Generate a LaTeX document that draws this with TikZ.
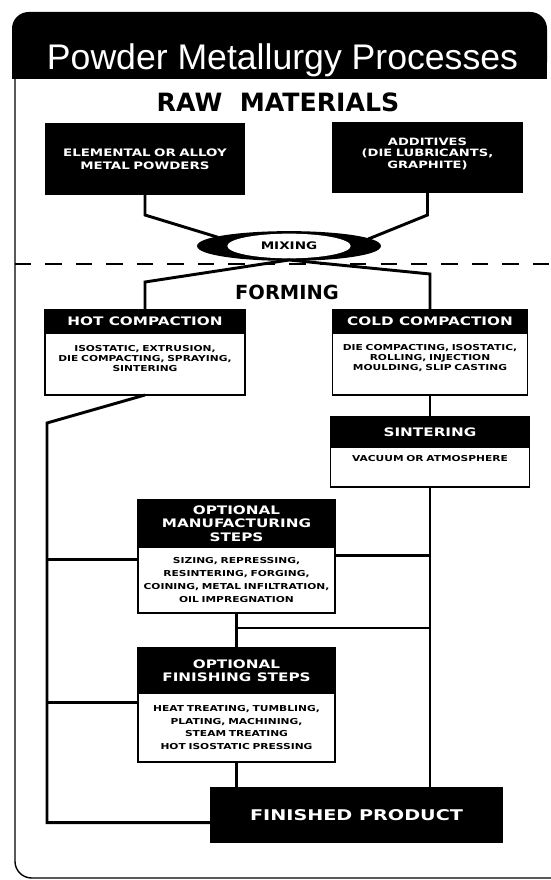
\documentclass[tikz,border=0pt]{standalone}
\usepackage{fontspec}
\setmainfont{DejaVu Sans}
\newfontfamily\widefont[FakeStretch=1.3]{DejaVu Sans}
\newfontfamily\titlefont{Liberation Sans}
\usetikzlibrary{positioning,shapes.geometric}

\begin{document}
\begin{tikzpicture}[x=0.03cm,y=-0.03cm,line width=2.5pt,node distance=0.66cm]
\tikzstyle{every node}=[inner sep=2pt,outer sep=0pt]
\tikzstyle{src}=[fill=black,text=white,align=center,text width=5.6cm,
  font=\widefont\bfseries\fontsize{8.8}{11}\selectfont]
\tikzstyle{head}=[draw,line width=1.5pt,fill=black,text=white,minimum width=5.91cm,
  align=center,font=\widefont\bfseries\fontsize{10}{11.5}\selectfont]
\tikzstyle{body}=[draw,line width=1.5pt,fill=white,minimum width=5.91cm,text width=5.85cm,
  inner xsep=0pt,align=center,font=\widefont\bfseries\fontsize{7}{11}\selectfont]
\tikzstyle{big}=[font=\bfseries\fontsize{21.5}{24}\selectfont]

\useasboundingbox[fill=white] (0,0) rectangle (550,880);

% frame and title bar
\draw[line width=1.2pt,rounded corners=0.5cm] (15,79) -- (15,878) -- (551,878);
\fill[rounded corners=0.5cm] (12,79) rectangle (547,12);
\fill (12,45) rectangle (547,79);
\node[text=white,font=\titlefont\fontsize{30.4}{33}\selectfont] (title) at (282.5,60.5) {Powder Metallurgy Processes};

\draw[line width=1.5pt,dash pattern=on 14pt off 12pt] (15,264) -- (550,264);

% raw materials
\node[big] (raw) at (278,102) {RAW\ \ MATERIALS};
\node[src,minimum width=6cm,minimum height=2.16cm] (elem) at (145,159)
  {ELEMENTAL OR ALLOY\\METAL POWDERS};
\node[src,minimum width=5.67cm,minimum height=2.13cm,font=\widefont\bfseries\fontsize{8.6}{9.8}\selectfont] (addv) at (427.5,157.5)
  {ADDITIVES\\(DIE LUBRICANTS,\\GRAPHITE)\vspace{0.24cm}};
\fill (289,246) ellipse [x radius=2.73cm,y radius=0.42cm];
\fill[white] (289,246) ellipse [x radius=1.85cm,y radius=0.37cm];
\node[draw,ellipse,line width=1.5pt,minimum width=5.46cm,minimum height=0.84cm,
  font=\widefont\bfseries\fontsize{8.9}{10}\selectfont] (mix) at (289,246) {MIXING};

% forming
\node[big,font=\bfseries\fontsize{16.6}{19}\selectfont] (form) at (287,292) {FORMING};
\node[head,minimum width=6cm,minimum height=0.69cm] (hothead) at (145,321.5) {HOT COMPACTION};
\node[body,minimum width=6cm,minimum height=1.86cm,font=\widefont\bfseries\fontsize{7}{8.5}\selectfont,below=0pt of hothead] (hotbody)
  {ISOSTATIC, EXTRUSION,\\DIE COMPACTING, SPRAYING,\\SINTERING\vspace{0.35cm}};
\node[head,minimum width=5.82cm,minimum height=0.69cm] (coldhead) at (430,321.5) {COLD COMPACTION};
\node[body,minimum width=5.82cm,minimum height=1.86cm,font=\widefont\bfseries\fontsize{7}{8.5}\selectfont,below=0pt of coldhead] (coldbody)
  {DIE COMPACTING, ISOSTATIC,\\ROLLING, INJECTION\\MOULDING, SLIP CASTING\vspace{0.35cm}};
\node[head,minimum width=5.97cm,minimum height=0.9cm,below=of coldbody] (sinthead) {SINTERING};
\node[body,minimum width=5.97cm,minimum height=1.2cm,below=0pt of sinthead] (sintbody) {VACUUM OR ATMOSPHERE\vspace{0.5cm}};

% optional steps
\node[head,minimum height=1.41cm] (opthead) at (236.5,523.5) {OPTIONAL\\MANUFACTURING\\STEPS};
\node[body,minimum height=1.98cm,below=0pt of opthead] (optbody)
  {SIZING, REPRESSING,\\RESINTERING, FORGING,\\COINING, METAL INFILTRATION,\\OIL IMPREGNATION};
\node[head,minimum height=1.35cm,below=1.05cm of optbody] (finhead) {OPTIONAL\\FINISHING STEPS};
\node[body,minimum height=2.07cm,below=0pt of finhead] (finbody)
  {HEAT TREATING, TUMBLING,\\PLATING, MACHINING,\\STEAM TREATING\\HOT ISOSTATIC PRESSING};

\node[src,text width=,minimum width=8.79cm,minimum height=1.68cm,
  font=\widefont\bfseries\fontsize{12.6}{14}\selectfont] (prod) at (356.5,815) {FINISHED PRODUCT};

\coordinate (lft) at (47,423);
\coordinate (mid) at (236.5,628);

\draw (elem.south) -- ++(0,20) -- (mix.173);
\draw (addv.south) -- ++(0,22) -- (mix.5);
\draw (hothead.north) -- ++(0,-28) -- (mix.south);
\draw (coldhead.north) -- ++(0,-36) -- (mix.south);
\draw (coldbody.south) -- (sinthead.north);
\draw (hotbody.south) -- (lft) |- (prod.183);
\draw (optbody.168) -- (optbody.168 -| lft);
\draw (finbody.166) -- (finbody.166 -| lft);
\draw (sintbody.south) -- (sintbody.south |- prod.north);
\draw (optbody.14) -- (optbody.14 -| sintbody.south);
\draw (optbody.south) -- (finhead.north);
\draw (mid) -- (mid -| sintbody.south);
\draw (finbody.south) -- (finbody.south |- prod.north);

\end{tikzpicture}
\end{document}
